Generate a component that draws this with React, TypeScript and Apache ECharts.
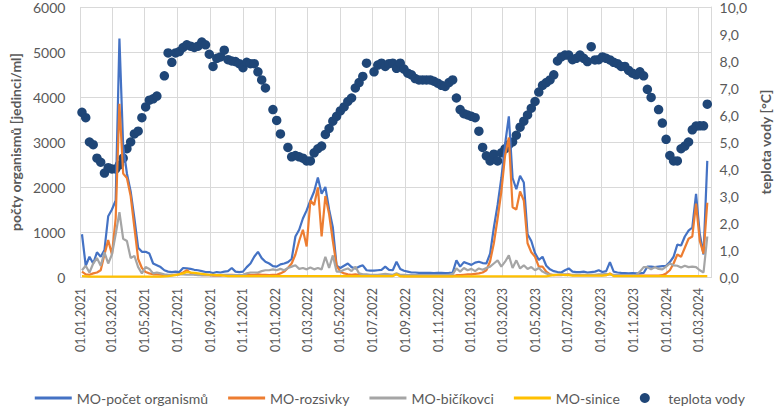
import React, { useEffect, useRef } from "react";
import * as echarts from "echarts";

// ---- axis / sampling definitions ----
const axisStartDate = "2021-01-01";
const axisDayCount = 1181; // 01.01.2021 .. 25.03.2024
const firstSampleDate = "2021-01-04";
const sampleStepDays = 7;

// ---- series values (one value per weekly sample) ----
const totalCount = [
  950, 250, 450, 300, 550, 450, 600, 1350, 1500, 1700, 5300, 2900, 2300, 1900, 1300, 650, 560, 560, 520, 300,
  260, 220, 150, 120, 110, 120, 110, 200, 190, 180, 160, 150, 130, 110, 110, 90, 110, 100, 120, 130,
  200, 120, 110, 120, 220, 300, 450, 560, 420, 340, 300, 240, 230, 280, 300, 330, 400, 900, 1050, 1300,
  1480, 1700, 1900, 2210, 1850, 2000, 1500, 1100, 250, 200, 250, 300, 220, 190, 230, 260, 150, 140, 140, 150,
  160, 230, 160, 150, 340, 180, 140, 120, 100, 100, 90, 90, 95, 90, 85, 90, 90, 85, 90, 100,
  370, 230, 330, 300, 270, 320, 340, 310, 300, 520, 1100, 1600, 2200, 2950, 3570, 2200, 1950, 2250, 2100, 950,
  800, 530, 380, 450, 250, 170, 130, 110, 100, 150, 190, 120, 110, 110, 120, 100, 110, 120, 150, 110,
  130, 330, 120, 100, 90, 85, 80, 85, 80, 80, 90, 230, 230, 220, 230, 240, 250, 330, 450, 720,
  700, 900, 1030, 1100, 1850, 950, 500, 2580,
];

const diatoms = [
  120, 60, 50, 80, 100, 150, 500, 820, 500, 1300, 3850, 2300, 2200, 1800, 1100, 400, 200, 110, 80, 60,
  60, 50, 40, 40, 40, 50, 60, 100, 150, 90, 60, 50, 40, 40, 40, 30, 30, 30, 40, 40,
  50, 40, 30, 30, 40, 50, 50, 60, 50, 50, 40, 50, 50, 80, 120, 200, 300, 500, 800, 1050,
  680, 1700, 1600, 1990, 900, 1800, 1400, 800, 250, 120, 80, 60, 50, 60, 50, 40, 40, 30, 30, 30,
  30, 40, 30, 30, 60, 30, 20, 20, 20, 20, 20, 20, 20, 20, 20, 20, 20, 20, 20, 20,
  40, 40, 50, 60, 60, 70, 80, 100, 150, 350, 750, 1300, 1900, 2700, 3100, 1550, 1500, 1900, 1700, 750,
  550, 450, 230, 230, 120, 60, 40, 40, 40, 50, 60, 40, 40, 40, 40, 40, 40, 40, 40, 40,
  40, 80, 30, 30, 30, 30, 30, 30, 30, 30, 30, 30, 30, 30, 30, 40, 80, 150, 300, 500,
  450, 650, 850, 900, 1630, 800, 520, 1650,
];

const flagellates = [
  150, 250, 100, 300, 420, 250, 550, 300, 500, 950, 1440, 850, 800, 420, 470, 220, 80, 220, 180, 80,
  100, 80, 60, 50, 50, 50, 60, 60, 50, 50, 50, 40, 40, 40, 40, 40, 40, 40, 50, 50,
  40, 40, 40, 50, 80, 100, 100, 100, 130, 150, 150, 170, 150, 180, 150, 200, 230, 260, 180, 200,
  170, 210, 170, 200, 170, 450, 200, 480, 120, 120, 160, 190, 130, 230, 80, 60, 60, 50, 50, 50,
  60, 70, 60, 50, 80, 50, 50, 40, 40, 40, 40, 40, 40, 40, 40, 40, 40, 40, 50, 60,
  190, 120, 200, 150, 180, 130, 190, 160, 200, 230, 300, 370, 230, 340, 480, 200, 370, 190, 260, 180,
  220, 150, 200, 120, 80, 50, 50, 50, 60, 60, 50, 50, 50, 50, 50, 50, 50, 50, 60, 60,
  70, 50, 50, 40, 40, 40, 40, 40, 50, 120, 220, 220, 170, 220, 180, 170, 230, 300, 260, 250,
  210, 250, 220, 230, 220, 150, 100, 900,
];

const cyanobacteria = [
  20, 15, 10, 10, 10, 10, 10, 10, 10, 10, 10, 10, 10, 10, 10, 10, 10, 10, 10, 10,
  10, 10, 15, 20, 30, 40, 60, 80, 110, 100, 90, 80, 70, 60, 50, 50, 40, 40, 30, 20,
  20, 20, 20, 20, 20, 20, 20, 20, 20, 20, 20, 20, 20, 20, 20, 20, 20, 20, 20, 20,
  20, 20, 20, 20, 20, 20, 20, 20, 20, 20, 20, 20, 20, 20, 20, 20, 20, 20, 20, 20,
  20, 20, 20, 20, 60, 15, 15, 15, 15, 15, 15, 15, 15, 15, 15, 15, 15, 15, 15, 15,
  15, 15, 15, 15, 15, 15, 15, 15, 15, 15, 15, 15, 15, 15, 15, 15, 15, 15, 15, 15,
  15, 15, 15, 15, 15, 30, 40, 50, 50, 40, 40, 30, 30, 30, 30, 30, 30, 30, 30, 30,
  40, 70, 20, 20, 20, 20, 20, 20, 20, 20, 20, 20, 20, 20, 20, 20, 20, 20, 20, 20,
  20, 20, 20, 20, 20, 20, 20, 20,
];

const waterTemp: (number | null)[] = [
  6.1, 5.9, 5.0, 4.9, 4.4, 4.25, 3.85, 4.05, 4.0, 4.0, 4.15, 4.4, 4.75, 5.0, 5.3, 5.4, 5.9, 6.3, 6.55, 6.6,
  6.7, null, 7.45, 8.3, 7.95, 8.3, 8.35, 8.5, 8.6, 8.55, 8.5, 8.55, 8.7, 8.6, 8.25, 7.8, 8.1, 8.15, 8.4, 8.05,
  8.0, 7.98, 7.9, 7.75, 7.95, 7.9, 7.9, 7.6, 7.3, 7.0, null, 6.2, 5.8, 5.3, null, 4.8, 4.45, 4.5, 4.45, 4.4,
  4.3, 4.3, 4.6, 4.75, 4.85, 5.28, 5.5, 5.77, 5.95, 6.15, 6.3, 6.5, 6.63, 7.0, 7.2, 7.43, 7.92, null, 7.6, 7.85,
  7.92, 7.8, 7.9, 7.92, 7.73, 7.92, 7.7, 7.55, 7.49, 7.35, 7.3, 7.3, 7.3, 7.3, 7.25, 7.18, 7.1, 7.06, 7.2, 7.3,
  6.63, 6.2, 6.05, 6.0, 5.95, 5.9, 5.4, 4.8, 4.49, 4.3, 4.55, 4.3, 4.6, 4.75, 4.9, 5.0, 5.25, 5.55, 5.77, 6.0,
  6.25, 6.5, 6.85, 7.1, 7.2, 7.3, 7.49, 8.0, 8.15, 8.22, 8.22, 8.05, 8.1, 8.22, 8.1, 7.98, 8.53, 8.04, 8.05, 8.15,
  8.1, 8.04, 7.95, 7.9, 7.8, 7.8, 7.65, 7.55, 7.49, 7.6, 7.45, 6.95, 6.65, null, 6.2, 5.7, 5.1, 4.5, 4.3, 4.3,
  4.75, 4.85, 5.0, 5.45, 5.59, 5.6, 5.6, 6.4,
];

const seriesNames = ["MO-počet organismů", "MO-rozsivky", "MO-bičíkovci", "MO-sinice", "teplota vody"];
const countAxisTitle = "počty organismů [jedinci/ml]";
const tempAxisTitle = "teplota vody [°C]";

const DAY = 86400000;
const parseUTC = (s: string) => {
  const [y, m, d] = s.split("-").map(Number);
  return Date.UTC(y, m - 1, d);
};
const startMs = parseUTC(axisStartDate);
const pad = (n: number) => (n < 10 ? "0" + n : "" + n);
const dayDate = (i: number) => new Date(startMs + i * DAY);
const categories: string[] = Array.from({ length: axisDayCount }, (_, i) => {
  const d = dayDate(i);
  return `${pad(d.getUTCDate())}.${pad(d.getUTCMonth() + 1)}.${d.getUTCFullYear()}`;
});
const isMajor = (i: number) => {
  const d = dayDate(i);
  return d.getUTCDate() === 1 && d.getUTCMonth() % 2 === 0;
};
const sampleOffset = Math.round((parseUTC(firstSampleDate) - startMs) / DAY);
const toPairs = (vals: (number | null)[]) =>
  vals
    .map((v, k) => (v == null ? null : [sampleOffset + k * sampleStepDays, v]))
    .filter((p) => p !== null) as number[][];

const FONT = 'Lato, Carlito, "Liberation Sans", sans-serif';
const TXT = "#595959";
const GRID = "#d9d9d9";
// thin horizontal line icon for legend (invisible corner points keep the 37x10 box)
const LINE_ICON = "path://M0,0L0.01,0M0,3.6H37V6.4H0ZM37,10L36.99,10";

export default function App() {
  const ref = useRef<HTMLDivElement>(null);
  useEffect(() => {
    if (!ref.current) return;
    const chart = echarts.init(ref.current, undefined, { renderer: "svg" });
    const lineColors = ["#4472C4", "#ED7D31", "#A5A5A5", "#FFC000"];
    const lineData = [totalCount, diatoms, flagellates, cyanobacteria];
    chart.setOption({
      animation: false,
      backgroundColor: "#ffffff",
      textStyle: { fontFamily: FONT },
      grid: { left: 80, right: 58, top: 5, bottom: 135, containLabel: false },
      legend: {
        bottom: 2,
        left: "center",
        itemWidth: 37,
        itemHeight: 10,
        itemGap: 20,
        textStyle: { color: TXT, fontSize: 14, fontFamily: FONT },
        data: seriesNames.map((n, i) =>
          i === 4 ? { name: n, icon: "circle" } : { name: n, icon: LINE_ICON }
        ),
      },
      xAxis: {
        type: "category",
        data: categories,
        boundaryGap: false,
        axisLine: { show: true, lineStyle: { color: GRID, width: 1 } },
        axisTick: { show: false },
        splitLine: {
          show: true,
          interval: (i: number) => isMajor(i),
          lineStyle: { color: GRID, width: 1 },
        },
        axisLabel: {
          interval: (i: number) => isMajor(i),
          rotate: 90,
          color: TXT,
          fontSize: 12.5,
          fontFamily: FONT,
          margin: 11,
        },
      },
      yAxis: [
        {
          type: "value",
          min: 0,
          max: 6000,
          interval: 1000,
          name: countAxisTitle,
          nameLocation: "middle",
          nameRotate: 90,
          nameGap: 58,
          nameTextStyle: { color: TXT, fontSize: 14, fontWeight: "bold", fontFamily: FONT },
          axisLine: { show: false },
          axisTick: { show: false },
          axisLabel: {
            color: TXT,
            fontSize: 14,
            fontFamily: FONT,
            margin: 15,
            formatter: (v: number) => String(v),
          },
          splitLine: { show: true, lineStyle: { color: GRID, width: 1 } },
        },
        {
          type: "value",
          min: 0,
          max: 10,
          interval: 1,
          name: tempAxisTitle,
          nameLocation: "middle",
          nameRotate: 90,
          nameGap: 46,
          nameTextStyle: { color: TXT, fontSize: 14, fontWeight: "bold", fontFamily: FONT },
          axisLine: { show: true, lineStyle: { color: GRID, width: 1 } },
          axisTick: { show: false },
          axisLabel: {
            color: TXT,
            fontSize: 14,
            fontFamily: FONT,
            margin: 8,
            formatter: (v: number) => v.toFixed(1).replace(".", ","),
          },
          splitLine: { show: false },
        },
      ],
      series: [
        {
          name: seriesNames[4],
          type: "scatter",
          yAxisIndex: 1,
          symbol: "circle",
          symbolSize: 9.5,
          itemStyle: { color: "#1F4677", opacity: 1 },
          data: toPairs(waterTemp),
          z: 2,
        },
        ...lineData.map((vals, i) => ({
          name: seriesNames[i],
          type: "line",
          yAxisIndex: 0,
          symbol: "none",
          lineStyle: { color: lineColors[i], width: 2.2 },
          itemStyle: { color: lineColors[i] },
          data: toPairs(vals),
          z: 3 + i,
        })),
      ],
    });
    return () => chart.dispose();
  }, []);
  return (
    <div
      ref={ref}
      style={{ position: "absolute", left: 0, top: 0, width: 780, height: 412, background: "#fff" }}
    />
  );
}
